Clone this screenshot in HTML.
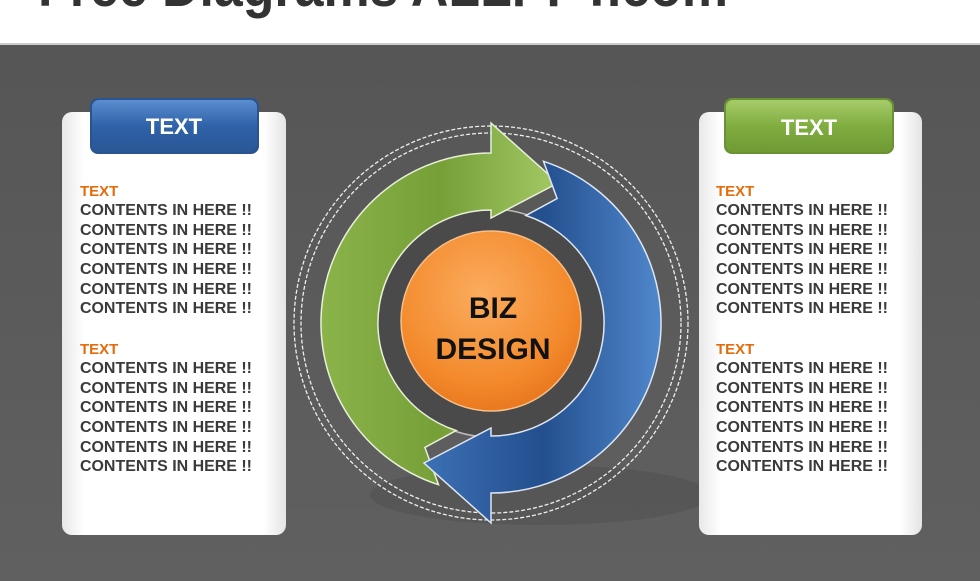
<!DOCTYPE html>
<html><head><meta charset="utf-8"><style>
html,body{margin:0;padding:0;width:980px;height:581px;overflow:hidden;background:#5a5a5a}
svg{display:block}
text{font-family:"Liberation Sans",Arial,sans-serif;font-weight:bold}
</style></head><body>
<svg width="980" height="581" viewBox="0 0 980 581" xmlns="http://www.w3.org/2000/svg">
<defs>
<linearGradient id="bg" x1="0" y1="0" x2="0" y2="1"><stop offset="0" stop-color="#555"/><stop offset="1" stop-color="#606060"/></linearGradient>
<linearGradient id="panel" x1="0" y1="0" x2="1" y2="0"><stop offset="0" stop-color="#e8e8e8"/><stop offset="0.1" stop-color="#fff"/><stop offset="0.9" stop-color="#fff"/><stop offset="1" stop-color="#e4e4e4"/></linearGradient>
<linearGradient id="tabB" x1="0" y1="0" x2="0" y2="1"><stop offset="0" stop-color="#5a8ed0"/><stop offset="0.5" stop-color="#2f62a8"/><stop offset="1" stop-color="#2a5796"/></linearGradient>
<linearGradient id="tabG" x1="0" y1="0" x2="0" y2="1"><stop offset="0" stop-color="#a6cc6a"/><stop offset="0.5" stop-color="#80ad40"/><stop offset="1" stop-color="#6f9a35"/></linearGradient>
<linearGradient id="gr" x1="0" y1="0" x2="1" y2="0"><stop offset="0" stop-color="#8ab44a"/><stop offset="0.5" stop-color="#769f38"/><stop offset="1" stop-color="#a3c965"/></linearGradient>
<linearGradient id="bl" x1="0" y1="0" x2="1" y2="0"><stop offset="0" stop-color="#3d70b5"/><stop offset="0.5" stop-color="#234f8e"/><stop offset="1" stop-color="#5088cc"/></linearGradient>
<radialGradient id="or" cx="0.45" cy="0.35" r="0.7"><stop offset="0" stop-color="#fbac5e"/><stop offset="0.7" stop-color="#f38a2c"/><stop offset="1" stop-color="#e7731a"/></radialGradient>
</defs>
<rect x="0" y="0" width="980" height="581" fill="url(#bg)"/>
<rect x="0" y="0" width="980" height="44" fill="#fff"/>
<rect x="0" y="43" width="980" height="2" fill="#ccc"/>
<text x="38" y="6" font-size="58" fill="#333" textLength="690" lengthAdjust="spacingAndGlyphs">Free Diagrams ALLPPT.com</text>

<ellipse cx="540" cy="495" rx="170" ry="30" fill="#525252" opacity="0.6"/>

<!-- left panel -->
<rect x="62" y="112" width="224" height="423" rx="10" fill="url(#panel)"/>
<rect x="90" y="98" width="169" height="56" rx="8" fill="#2a5490"/>
<rect x="92" y="100" width="165" height="52" rx="7" fill="url(#tabB)"/>
<text x="174" y="134" font-size="22" fill="#fff" text-anchor="middle">TEXT</text>
<g font-size="15.5" fill="#3a3a3a">
<text x="80" y="196" fill="#e46c0a" font-size="15">TEXT</text>
<text x="80" y="215" textLength="172" lengthAdjust="spacingAndGlyphs">CONTENTS IN HERE !!</text>
<text x="80" y="235" textLength="172" lengthAdjust="spacingAndGlyphs">CONTENTS IN HERE !!</text>
<text x="80" y="254" textLength="172" lengthAdjust="spacingAndGlyphs">CONTENTS IN HERE !!</text>
<text x="80" y="274" textLength="172" lengthAdjust="spacingAndGlyphs">CONTENTS IN HERE !!</text>
<text x="80" y="294" textLength="172" lengthAdjust="spacingAndGlyphs">CONTENTS IN HERE !!</text>
<text x="80" y="313" textLength="172" lengthAdjust="spacingAndGlyphs">CONTENTS IN HERE !!</text>
<text x="80" y="354" fill="#e46c0a" font-size="15">TEXT</text>
<text x="80" y="373" textLength="172" lengthAdjust="spacingAndGlyphs">CONTENTS IN HERE !!</text>
<text x="80" y="393" textLength="172" lengthAdjust="spacingAndGlyphs">CONTENTS IN HERE !!</text>
<text x="80" y="412" textLength="172" lengthAdjust="spacingAndGlyphs">CONTENTS IN HERE !!</text>
<text x="80" y="432" textLength="172" lengthAdjust="spacingAndGlyphs">CONTENTS IN HERE !!</text>
<text x="80" y="452" textLength="172" lengthAdjust="spacingAndGlyphs">CONTENTS IN HERE !!</text>
<text x="80" y="471" textLength="172" lengthAdjust="spacingAndGlyphs">CONTENTS IN HERE !!</text>
</g>

<!-- right panel -->
<rect x="699" y="112" width="223" height="423" rx="10" fill="url(#panel)"/>
<rect x="724" y="98" width="170" height="56" rx="8" fill="#6a9234"/>
<rect x="726" y="100" width="166" height="52" rx="7" fill="url(#tabG)"/>
<text x="809" y="135" font-size="22" fill="#fff" text-anchor="middle">TEXT</text>
<g font-size="15.5" fill="#3a3a3a">
<text x="716" y="196" fill="#e46c0a" font-size="15">TEXT</text>
<text x="716" y="215" textLength="172" lengthAdjust="spacingAndGlyphs">CONTENTS IN HERE !!</text>
<text x="716" y="235" textLength="172" lengthAdjust="spacingAndGlyphs">CONTENTS IN HERE !!</text>
<text x="716" y="254" textLength="172" lengthAdjust="spacingAndGlyphs">CONTENTS IN HERE !!</text>
<text x="716" y="274" textLength="172" lengthAdjust="spacingAndGlyphs">CONTENTS IN HERE !!</text>
<text x="716" y="294" textLength="172" lengthAdjust="spacingAndGlyphs">CONTENTS IN HERE !!</text>
<text x="716" y="313" textLength="172" lengthAdjust="spacingAndGlyphs">CONTENTS IN HERE !!</text>
<text x="716" y="354" fill="#e46c0a" font-size="15">TEXT</text>
<text x="716" y="373" textLength="172" lengthAdjust="spacingAndGlyphs">CONTENTS IN HERE !!</text>
<text x="716" y="393" textLength="172" lengthAdjust="spacingAndGlyphs">CONTENTS IN HERE !!</text>
<text x="716" y="412" textLength="172" lengthAdjust="spacingAndGlyphs">CONTENTS IN HERE !!</text>
<text x="716" y="432" textLength="172" lengthAdjust="spacingAndGlyphs">CONTENTS IN HERE !!</text>
<text x="716" y="452" textLength="172" lengthAdjust="spacingAndGlyphs">CONTENTS IN HERE !!</text>
<text x="716" y="471" textLength="172" lengthAdjust="spacingAndGlyphs">CONTENTS IN HERE !!</text>
</g>

<circle cx="491" cy="323" r="197" fill="none" stroke="#eee" stroke-width="1.3" stroke-dasharray="4 2"/>
<circle cx="491" cy="323" r="190" fill="none" stroke="#eee" stroke-width="1.3" stroke-dasharray="4 2"/>
<circle cx="491" cy="323" r="114" fill="#4a4a4a" stroke="#bbb" stroke-width="1.5"/>

<path d="M438.5,484.7 A170,170 0 0 1 491,153 L491,123 L558,183 L491,218 L491,210 A113,113 0 0 0 456.1,430.5 L424.9,447.5 Z" fill="url(#gr)" stroke="#e8f0d8" stroke-width="1.5"/>
<path d="M543.5,161.3 A170,170 0 0 1 491,493 L491,523 L424,463 L491,428 L491,436 A113,113 0 0 0 525.9,215.5 L557.1,198.5 Z" fill="url(#bl)" stroke="#dde6f2" stroke-width="1.5"/>

<circle cx="491" cy="321" r="90" fill="url(#or)" stroke="#f5c08a" stroke-width="1.5"/>
<text x="493" y="318" font-size="30" fill="#111" text-anchor="middle">BIZ</text>
<text x="493" y="359" font-size="30" fill="#111" text-anchor="middle">DESIGN</text>
</svg>
</body></html>
